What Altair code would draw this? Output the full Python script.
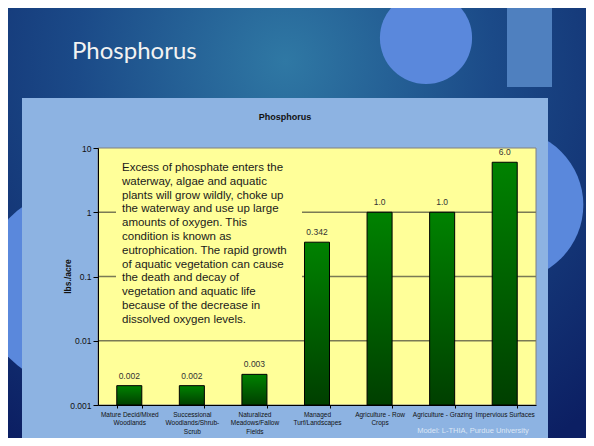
import altair as alt
import pandas as pd

# ---- data ----
categories = [
    "Mature Decid/Mixed|Woodlands",
    "Successional|Woodlands/Shrub-|Scrub",
    "Naturalized|Meadows/Fallow|Fields",
    "Managed|Turf/Landscapes",
    "Agriculture - Row|Crops",
    "Agriculture - Grazing",
    "Impervious Surfaces",
]
values = [0.002, 0.002, 0.003, 0.342, 1.0, 1.0, 6.0]
value_labels = ["0.002", "0.002", "0.003", "0.342", "1.0", "1.0", "6.0"]
y_ticks = [0.001, 0.01, 0.1, 1, 10]
grid_values = [0.01, 0.1, 1]
note_lines = [
    "Excess of phosphate enters the",
    "waterway, algae and aquatic",
    "plants will grow wildly, choke up",
    "the waterway and use up large",
    "amounts of oxygen. This",
    "condition is known as",
    "eutrophication. The rapid growth",
    "of aquatic vegetation can cause",
    "the death and decay of",
    "vegetation and aquatic life",
    "because of the decrease in",
    "dissolved oxygen levels.",
]
slide_title = "Phosphorus"
chart_title = "Phosphorus"
y_title = "lbs./acre"
footer = "Model: L-THIA, Purdue University"

df = pd.DataFrame({
    "cat": categories,
    "value": values,
    "label": value_labels,
    "base": [0.001] * len(values),
})
grid_df = pd.DataFrame({"g": grid_values})
one = pd.DataFrame({"d": [0]})

W, H = 438, 257

yscale = alt.Scale(type="log", domain=[0.001, 10])
xaxis = alt.Axis(
    title=None, labelAngle=0, labelExpr="split(datum.label, '|')",
    tickBand="extent", tickSize=3, tickColor="#000000",
    domainColor="#000000", labelFontSize=6.5, labelLineHeight=8.5,
    labelPadding=3, labelColor="#111111", labelFont="Liberation Sans",
    labelBaseline="top", zindex=2, grid=False,
)
xenc = alt.X("cat:N", sort=categories,
             scale=alt.Scale(paddingInner=0.6, paddingOuter=0.3), axis=xaxis)
yaxis = alt.Axis(
    values=y_ticks, format="~g", grid=False, tickSize=5, tickColor="#000000",
    domainColor="#000000", labelFontSize=8.5, labelPadding=2,
    labelColor="#111111", labelFont="Liberation Sans",
    title=y_title, titleFontSize=8.5, titleFontWeight="bold",
    titleFont="Liberation Sans", titleColor="#111111",
    titleX=-31, titleY=128, titleBaseline="middle", titleAlign="center",
    zindex=2,
)

base1 = alt.Chart(one)

bg = base1.mark_rect(
    color=alt.Gradient(
        gradient="radial",
        stops=[alt.GradientStop(color="#2f78a4", offset=0),
               alt.GradientStop(color="#1b4a88", offset=0.45),
               alt.GradientStop(color="#0c1f63", offset=1)],
        x1=0.48, y1=0.22, r1=0, x2=0.48, y2=0.22, r2=0.8,
    )
).encode(x=alt.value(-90), x2=alt.value(488), y=alt.value(-140), y2=alt.value(290))

circ_top = base1.mark_circle(color="#5a88dc", opacity=1, size=8495).encode(
    x=alt.value(328), y=alt.value(-110))
circ_right = base1.mark_circle(color="#5a88dc", opacity=1, size=22698).encode(
    x=alt.value(410), y=alt.value(57))
circ_left = base1.mark_circle(color="#5a88dc", opacity=1, size=40115).encode(
    x=alt.value(-17), y=alt.value(140))
deco_rect = base1.mark_rect(color="#4f80bf").encode(
    x=alt.value(409), x2=alt.value(454), y=alt.value(-143), y2=alt.value(-61))
panel = base1.mark_rect(color="#8db3e2").encode(
    x=alt.value(-76), x2=alt.value(450), y=alt.value(-50), y2=alt.value(290))
title_txt = base1.mark_text(
    align="left", baseline="alphabetic", font="Lato", fontSize=24,
    color="#f2f2f2"
).encode(x=alt.value(-26), y=alt.value(-89), text=alt.value(slide_title))

plot_bg = base1.mark_rect(color="#ffff99", stroke="#808080", strokeWidth=1).encode(
    x=alt.value(0), x2=alt.value(W), y=alt.value(0), y2=alt.value(H))

grid = alt.Chart(grid_df).mark_rule(color="#7a7a55", strokeWidth=1.3).encode(
    y=alt.Y("g:Q", scale=yscale, axis=yaxis))

note_box = base1.mark_rect(color="#ffff99").encode(
    x=alt.value(18), x2=alt.value(204), y=alt.value(8), y2=alt.value(184))
note = base1.mark_text(
    align="left", baseline="middle", font="Liberation Sans", fontSize=11.5,
    lineHeight=13.8, color="#1a1a1a"
).encode(x=alt.value(24), y=alt.value(20), text=alt.value(note_lines))

bars = alt.Chart(df).mark_bar(
    color=alt.Gradient(
        gradient="linear",
        stops=[alt.GradientStop(color="#008200", offset=0),
               alt.GradientStop(color="#003f00", offset=1)],
        x1=0, x2=0, y1=0, y2=1,
    ),
    stroke="#000000", strokeWidth=1,
).encode(
    x=xenc,
    y=alt.Y("value:Q", scale=yscale, axis=yaxis),
    y2="base:Q",
)

labels = alt.Chart(df).mark_text(
    baseline="bottom", dy=-5, font="Liberation Sans", fontSize=8.5,
    color="#333333"
).encode(
    x=alt.X("cat:N", sort=categories, axis=xaxis),
    y=alt.Y("value:Q", scale=yscale, axis=yaxis),
    text="label:N",
)

ctitle = base1.mark_text(
    font="Liberation Sans", fontSize=9, fontWeight="bold", color="#111111",
    baseline="middle", align="center"
).encode(x=alt.value(187), y=alt.value(-31), text=alt.value(chart_title))

foot = base1.mark_text(
    font="Liberation Sans", fontSize=7.5, color="#dce6f5",
    baseline="middle", align="center"
).encode(x=alt.value(375), y=alt.value(283), text=alt.value(footer))

chart = alt.layer(
    bg, circ_top, circ_right, circ_left, deco_rect, panel, title_txt,
    plot_bg, grid, note_box, note, bars, labels, ctitle, foot
).properties(
    width=W, height=H,
    padding={"left": 90, "top": 140, "right": 50, "bottom": 33},
    autosize=alt.AutoSizeParams(type="none"),
    background="#0c1f63",
).configure_view(stroke=None)

chart.save("out.html", embed_options={"renderer": "svg", "actions": False})
